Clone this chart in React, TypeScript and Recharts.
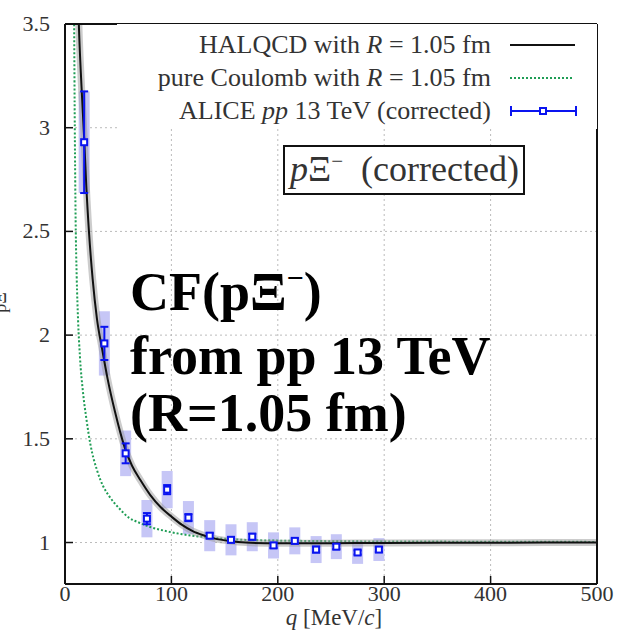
import React from "react";
import {
  ComposedChart,
  Line,
  Scatter,
  ErrorBar,
  XAxis,
  YAxis,
  CartesianGrid,
  Legend,
} from "recharts";

const qTicks = [0, 100, 200, 300, 400, 500];
const cfTicks = [1, 1.5, 2, 2.5, 3, 3.5];

// ALICE pp 13 TeV (corrected) points
const aliceQ = [18, 37, 57, 77, 96, 116, 136, 156, 176, 196, 216, 236, 255, 275, 295];
const aliceCF = [2.93, 1.96, 1.43, 1.115, 1.255, 1.12, 1.033, 1.013, 1.028, 0.986, 1.008, 0.966, 0.98, 0.952, 0.966];
const aliceStat = [0.245, 0.08, 0.048, 0.027, 0.022, 0.017, 0.012, 0.012, 0.014, 0.012, 0.012, 0.014, 0.012, 0.01, 0.012];
const aliceSys = [0.245, 0.155, 0.11, 0.09, 0.09, 0.08, 0.075, 0.075, 0.07, 0.063, 0.065, 0.065, 0.06, 0.055, 0.055];

// HALQCD curve
const halQ = [11, 13, 15.5, 18, 20, 22.5, 26, 30, 35, 40, 47, 56, 63, 71, 80, 90, 100, 110, 120, 130, 140, 155, 170, 200, 250, 300, 400, 500];
const halCF = [3.9, 3.5, 3.2, 2.95, 2.72, 2.5, 2.27, 2.08, 1.93, 1.79, 1.63, 1.46, 1.37, 1.3, 1.23, 1.17, 1.125, 1.085, 1.055, 1.035, 1.02, 1.007, 1.0, 0.996, 0.997, 0.998, 0.999, 1.0];

// pure Coulomb curve
const coulQ = [8, 8.6, 9.2, 10, 11, 12.3, 14, 17, 20, 24, 30, 36, 42, 50, 60, 70, 80, 95, 110, 130, 150, 180, 220, 300, 400, 500];
const coulCF = [4.0, 3.5, 3.0, 2.55, 2.28, 2.07, 1.9, 1.72, 1.6, 1.47, 1.35, 1.27, 1.22, 1.17, 1.12, 1.095, 1.075, 1.055, 1.04, 1.027, 1.018, 1.011, 1.008, 1.005, 1.004, 1.003];

const aliceData = aliceQ.map((q, i) => ({ q, cf: aliceCF[i], stat: aliceStat[i], sys: aliceSys[i] }));
const halData = halQ.map((q, i) => ({ q, cf: halCF[i] }));
const coulData = coulQ.map((q, i) => ({ q, cf: coulCF[i] }));

const SERIF = "'Liberation Serif', 'DejaVu Serif', serif";
const BLUE = "#0a14f0";
const GREEN = "#1f9d55";

const squareShape = (props: any) => {
  const { cx, cy } = props;
  return <rect x={cx - 3} y={cy - 3} width={6} height={6} fill="#fff" stroke={BLUE} strokeWidth={2} />;
};

const emptyShape = () => <g />;

function XTick(props: any) {
  const { x, y, payload } = props;
  return (
    <text x={x} y={y} dy={15} textAnchor="middle" style={{ fontFamily: SERIF, fontSize: 22, fill: "#333" }}>
      {payload.value}
    </text>
  );
}

function YTick(props: any) {
  const { x, y, payload } = props;
  return (
    <text x={x} y={y} dy={7} textAnchor="end" style={{ fontFamily: SERIF, fontSize: 22, fill: "#333" }}>
      {payload.value}
    </text>
  );
}

function LegendBox() {
  const row: React.CSSProperties = { display: "flex", alignItems: "center", height: 33 };
  const label: React.CSSProperties = { width: 374, textAlign: "right", marginRight: 19, whiteSpace: "nowrap" };
  return (
    <div
      style={{
        background: "#fff",
        width: 480,
        height: 105,
        paddingTop: 4,
        boxSizing: "border-box",
        fontFamily: SERIF,
        fontSize: 26,
        color: "#333",
      }}
    >
      <div style={row}>
        <span style={label}>
          HALQCD with <i>R</i> = 1.05 fm
        </span>
        <svg width={66} height={10}>
          <line x1={0} x2={65} y1={5} y2={5} stroke="#111" strokeWidth={2} />
        </svg>
      </div>
      <div style={row}>
        <span style={label}>
          pure Coulomb with <i>R</i> = 1.05 fm
        </span>
        <svg width={66} height={10}>
          <line x1={0} x2={62} y1={5} y2={5} stroke={GREEN} strokeWidth={2} strokeDasharray="2 2" />
        </svg>
      </div>
      <div style={row}>
        <span style={label}>
          ALICE <i>pp</i> 13 TeV (corrected)
        </span>
        <svg width={68} height={14}>
          <line x1={1} x2={66} y1={7} y2={7} stroke={BLUE} strokeWidth={2} />
          <line x1={1} x2={1} y1={2} y2={12} stroke={BLUE} strokeWidth={2} />
          <line x1={66} x2={66} y1={2} y2={12} stroke={BLUE} strokeWidth={2} />
          <rect x={30} y={4} width={6} height={6} fill="#fff" stroke={BLUE} strokeWidth={2} />
        </svg>
      </div>
    </div>
  );
}

export default function App() {
  return (
    <div style={{ position: "absolute", left: 0, top: 0, width: 624, height: 632, background: "#fff" }}>
      <ComposedChart
        width={624}
        height={632}
        margin={{ top: 0, right: 0, bottom: 0, left: 8 }}
        style={{ fontFamily: SERIF }}
      >
        <CartesianGrid stroke="#bbb" strokeDasharray="2 3" />
        <XAxis
          xAxisId={0}
          type="number"
          dataKey="q"
          domain={[0, 500]}
          ticks={qTicks}
          allowDataOverflow
          height={48}
          tickSize={-8}
          tickMargin={10}
          tick={<XTick />}
          axisLine={{ stroke: "#111", strokeWidth: 2 }}
          tickLine={{ stroke: "#111", strokeWidth: 1.5 }}
        />
        <XAxis
          xAxisId={1}
          orientation="top"
          type="number"
          dataKey="q"
          domain={[0, 500]}
          ticks={qTicks}
          allowDataOverflow
          height={24}
          tickSize={-8}
          tick={false}
          axisLine={{ stroke: "#111", strokeWidth: 2 }}
          tickLine={{ stroke: "#111", strokeWidth: 1.5 }}
        />
        <YAxis
          yAxisId={0}
          type="number"
          domain={[0.8, 3.5]}
          ticks={cfTicks}
          allowDataOverflow
          width={57}
          tickSize={-8}
          tickMargin={23}
          tick={<YTick />}
          axisLine={{ stroke: "#111", strokeWidth: 2 }}
          tickLine={{ stroke: "#111", strokeWidth: 1.5 }}
        />
        <YAxis
          yAxisId={1}
          orientation="right"
          type="number"
          domain={[0.8, 3.5]}
          ticks={cfTicks}
          allowDataOverflow
          width={27}
          tickSize={-8}
          tick={false}
          axisLine={{ stroke: "#111", strokeWidth: 2 }}
          tickLine={{ stroke: "#111", strokeWidth: 1.5 }}
        />
        <Legend
          layout="horizontal"
          verticalAlign="middle"
          align="center"
          content={() => <LegendBox />}
          wrapperStyle={{ left: 117, top: 24, width: 480, height: 105 }}
        />
        <Scatter
          data={aliceData}
          dataKey="cf"
          shape={emptyShape}
          legendType="none"
          isAnimationActive={false}
        >
          <ErrorBar dataKey="sys" direction="y" width={0} stroke="#c6c6f6" strokeWidth={11} isAnimationActive={false} />
        </Scatter>
        <Line
          data={coulData}
          dataKey="cf"
          type="monotone"
          stroke={GREEN}
          strokeWidth={2}
          strokeDasharray="2 2"
          dot={false}
          name="pure Coulomb with R = 1.05 fm"
          isAnimationActive={false}
        />
        <Line
          data={halData}
          dataKey="cf"
          type="monotone"
          stroke="#999"
          strokeOpacity={0.5}
          strokeWidth={7}
          dot={false}
          legendType="none"
          isAnimationActive={false}
        />
        <Line
          data={halData}
          dataKey="cf"
          type="monotone"
          stroke="#111"
          strokeWidth={2}
          dot={false}
          name="HALQCD with R = 1.05 fm"
          isAnimationActive={false}
        />
        <Scatter
          data={aliceData}
          dataKey="cf"
          shape={squareShape}
          name="ALICE pp 13 TeV (corrected)"
          isAnimationActive={false}
        >
          <ErrorBar dataKey="stat" direction="y" width={4} stroke={BLUE} strokeWidth={2} isAnimationActive={false} />
        </Scatter>
      </ComposedChart>

      {/* boxed label */}
      <div
        style={{
          position: "absolute",
          left: 283,
          top: 145,
          width: 242,
          height: 50,
          boxSizing: "border-box",
          border: "2px solid #111",
          background: "#fff",
          fontFamily: SERIF,
          fontSize: 36,
          color: "#333",
          lineHeight: "44px",
          paddingLeft: 5,
          whiteSpace: "nowrap",
        }}
      >
        <i>p</i>Ξ<span style={{ fontSize: 21, position: "relative", top: -13 }}>−</span>&nbsp; (corrected)
      </div>

      {/* big annotation */}
      <div
        style={{
          position: "absolute",
          left: 130,
          top: 264,
          fontFamily: SERIF,
          fontWeight: "bold",
          fontSize: 54,
          lineHeight: "57px",
          color: "#000",
          whiteSpace: "nowrap",
        }}
      >
        <div>
          CF(pΞ<span style={{ fontSize: 30, position: "relative", top: -22 }}>−</span>)
        </div>
        <div>from pp 13 TeV</div>
        <div>(R=1.05 fm)</div>
      </div>

      {/* axis titles */}
      <div
        style={{
          position: "absolute",
          left: 278,
          top: 606,
          width: 112,
          textAlign: "center",
          fontFamily: SERIF,
          fontSize: 23,
          lineHeight: "23px",
          color: "#333",
          whiteSpace: "nowrap",
        }}
      >
        <i>q</i> [MeV/<i>c</i>]
      </div>
      <svg style={{ position: "absolute", left: 0, top: 0 }} width={20} height={632}>
        <text
          transform="translate(-1, 330) rotate(-90)"
          fontFamily={SERIF}
          fontSize={26}
          fill="#333"
        >
          C
          <tspan dy={7} fontSize={18}>
            pΞ
          </tspan>
        </text>
      </svg>
    </div>
  );
}
